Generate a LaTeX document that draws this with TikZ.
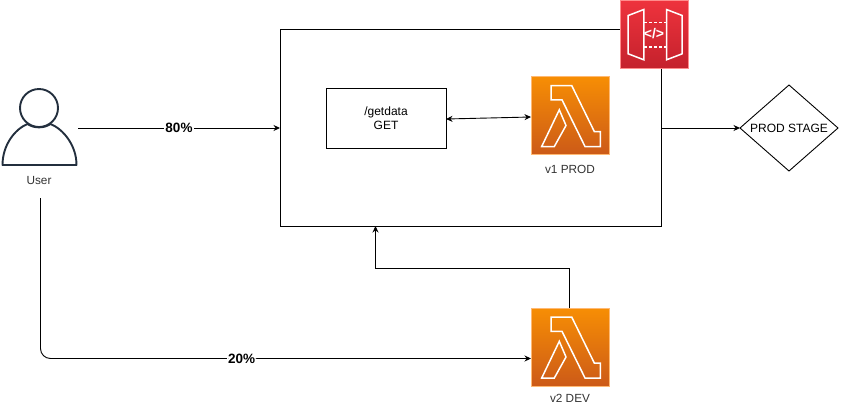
\documentclass[tikz,border=0pt]{standalone}
\usepackage{fontspec}
\setmainfont{Liberation Sans}
\usetikzlibrary{arrows.meta,shapes.geometric}
\definecolor{iconink}{HTML}{232F3E}
\definecolor{labelink}{HTML}{333333}
\tikzset{plainbox/.style={draw=black, line width=0.9pt, rectangle, inner sep=0pt, outer sep=0pt, font=\fontsize{12}{14}\selectfont, align=center},
lambdabox/.style={rectangle, draw=orange!55!white, line width=0.8pt, minimum size=78pt, inner sep=0pt, outer sep=0pt, top color=lamtop, bottom color=lambot},
gatewaybox/.style={rectangle, draw=red!45!white, line width=0.8pt, minimum size=68pt, inner sep=0pt, outer sep=0pt, top color=gwtop, bottom color=gwbot},
glyph/.style={draw=white, line width=1.5pt, line join=miter},
link/.style={draw=black, line width=0.9pt, -{Stealth[length=6.5pt,width=6pt]}},
percent/.style={fill=white, inner sep=1pt, font=\fontsize{13.5}{15}\selectfont\bfseries},
caption/.style={text=labelink, font=\fontsize{11.8}{14}\selectfont}}
\definecolor{lamtop}{HTML}{F78E04}
\definecolor{lambot}{HTML}{CC5A18}
\definecolor{gwtop}{HTML}{EE333D}
\definecolor{gwbot}{HTML}{C4212C}

\begin{document}
\begin{tikzpicture}[x=1pt, y=-1pt]
\useasboundingbox (0,0) rectangle (841,408);

% main stage box and its content
\node[plainbox, minimum width=381pt, minimum height=197pt] (stage) at (470.5,127.5) {};
\node[plainbox, minimum width=120pt, minimum height=60pt] (getdata) at (386,118) {/getdata\\GET};
\node[lambdabox] (prod) at (570,115.5) {};
\node[lambdabox] (dev) at (570,347) {};
\node[gatewaybox] (gateway) at (654.5,34.5) {};
\node[plainbox, shape=diamond, aspect=1.14, minimum width=98pt, minimum height=86pt] (prodstage) at (789,128) {PROD STAGE};

\node[caption] (prodlabel) at (570,169) {v1 PROD};
\node[caption] (devlabel) at (570,398.5) {v2 DEV};

% lambda glyphs
\foreach \i in {prod,dev} {
    \draw[glyph] ([shift={(20,9)}]\i.north west) -- ++(20.7,0) -- ++(22.6,46) -- ++(6,0) -- ++(0,15) -- ++(-15.3,0) -- ++(-23,-46.7) -- ++(-11,0) -- cycle;
    \draw[glyph] ([shift={(28.3,33.3)}]\i.north west) -- ++(6.7,15.7) -- ++(-11.7,21) -- ++(-12.6,0) -- cycle;
}

% gateway glyph
\draw[glyph] ([shift={(7.7,15)}]gateway.north west) -- ++(15.6,-6) -- ++(0,50.3) -- ++(-15.6,-6) -- cycle;
\draw[glyph] ([shift={(61.7,15)}]gateway.north west) -- ++(-15.7,-6) -- ++(0,50.3) -- ++(15.7,-6) -- cycle;
\draw[glyph, dash pattern=on 3pt off 2pt] ([shift={(23.3,22)}]gateway.north west) -- ++(22.7,0);
\draw[glyph, dash pattern=on 3pt off 2pt] ([shift={(23.3,46.7)}]gateway.north west) -- ++(22.7,0);
\node[text=white, inner sep=0pt, font=\fontsize{14}{16}\selectfont\bfseries] (code) at ([shift={(33.5,33.5)}]gateway.north west) {</>};

% user icon
\coordinate (head) at (39,108);
\coordinate (userleft) at (2.5,165);
\coordinate (userright) at (76.5,165);
\draw[iconink, line width=1.9pt] (head) circle (19);
\draw[iconink, line width=1.9pt, line join=round] (userleft) -- (userright) .. controls (76.5,145) and (63,129) .. (50.5,124) .. controls (44,128.5) and (34,128.5) .. (27.5,124) .. controls (15,129) and (2.5,145) .. (userleft) -- cycle;
\node[caption] (user) at (39,180) {User};

% connectors
\coordinate (useright) at (78,128);
\coordinate (stagein) at (stage.west |- useright);
\coordinate (userbelow) at (40.5,198);
\coordinate (devin) at (dev.west |- 0,358.5);
\coordinate (corner) at (userbelow |- devin);
\coordinate (devup) at (569.5,308);
\coordinate (stageup) at (375.5,226);

\draw[link] (useright) -- node[percent] (p80) {80\%} (stagein);
\draw[link, rounded corners=10pt] (userbelow) -- (corner) -- node[percent, pos=0.41] (p20) {20\%} (devin);
\draw[link] (devup) -- (569.5,268.5) -- (375.5,268.5) -- (stageup);
\draw[draw=black, line width=0.9pt, {Stealth[length=6.5pt,width=6pt]}-{Stealth[length=6.5pt,width=6pt]}] (getdata.east |- 0,119) -- (prod.west |- 0,117);
\draw[link] (stage.east |- prodstage) -- (prodstage.west);

\end{tikzpicture}
\end{document}
